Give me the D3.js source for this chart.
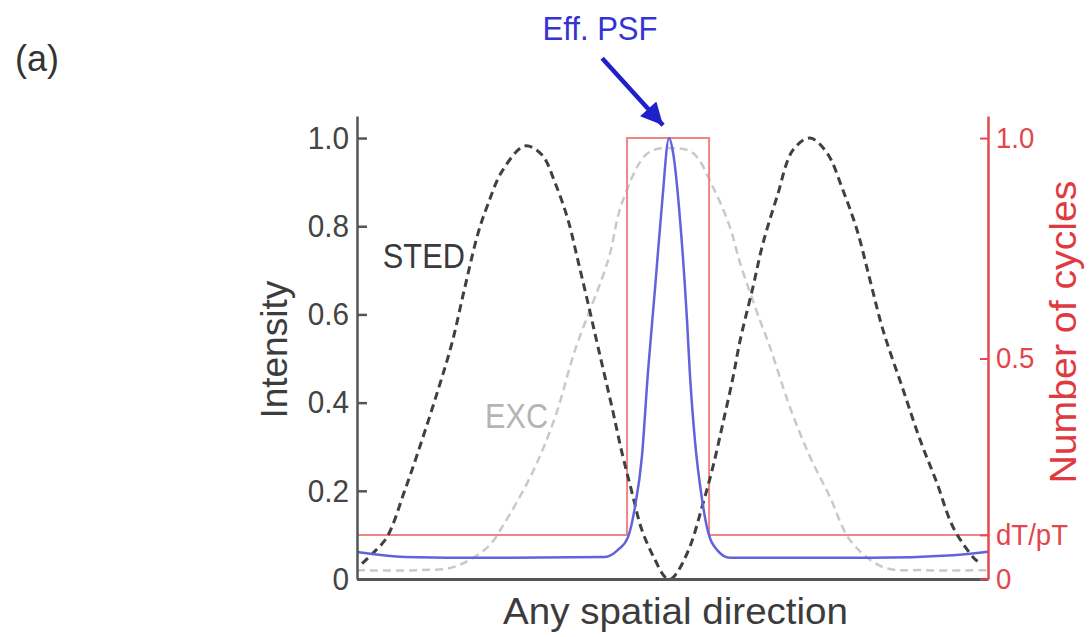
<!DOCTYPE html>
<html>
<head>
<meta charset="utf-8">
<script src="https://cdn.jsdelivr.net/npm/d3@7"></script>
<style>
body { margin: 0; background: #fff; }
svg { display: block; }
text { font-family: "Liberation Sans", Arial, sans-serif; }
</style>
</head>
<body>
<svg width="1090" height="637"></svg>
<script>
var width = 1090, height = 637;

// scan position (arbitrary units, -1 .. 1) and intensity
var stedX = [-0.984, -0.949, -0.905, -0.848, -0.794, -0.743, -0.699, -0.658, -0.616, -0.585, -0.540, -0.468, -0.414, -0.372, -0.331, -0.300, -0.268, -0.236, -0.192, -0.160, -0.128, -0.097, -0.055, -0.024, -0.005, 0.014, 0.055, 0.097, 0.128, 0.160, 0.192, 0.214, 0.255, 0.287, 0.331, 0.382, 0.436, 0.490, 0.540, 0.585, 0.626, 0.667, 0.731, 0.785, 0.838, 0.889, 0.952, 0.975];
var stedY = [0.035, 0.059, 0.095, 0.202, 0.315, 0.429, 0.535, 0.662, 0.785, 0.850, 0.925, 0.982, 0.962, 0.898, 0.814, 0.723, 0.626, 0.526, 0.390, 0.286, 0.195, 0.111, 0.043, 0.005, 0.000, 0.014, 0.073, 0.172, 0.254, 0.354, 0.458, 0.540, 0.662, 0.762, 0.866, 0.973, 1.000, 0.966, 0.882, 0.791, 0.678, 0.565, 0.429, 0.315, 0.218, 0.118, 0.050, 0.035];

var excX = [-1.0, -0.8, -0.689, -0.585, -0.540, -0.445, -0.372, -0.309, -0.204, -0.160, -0.078, 0.0, 0.065, 0.128, 0.182, 0.214, 0.277, 0.309, 0.372, 0.436, 0.499, 0.563, 0.667, 0.8, 1.0];
var excY = [0.020, 0.020, 0.028, 0.073, 0.118, 0.240, 0.367, 0.519, 0.723, 0.853, 0.966, 0.977, 0.966, 0.889, 0.798, 0.717, 0.587, 0.526, 0.390, 0.277, 0.186, 0.088, 0.027, 0.020, 0.020];

var psfX = [-1.0, -0.848, -0.585, -0.214, -0.173, -0.141, -0.119, -0.097, -0.078, -0.055, -0.033, -0.011, 0.002, 0.024, 0.046, 0.055, 0.071, 0.094, 0.109, 0.141, 0.182, 0.626, 0.889, 1.0];
var psfY = [0.061, 0.050, 0.048, 0.050, 0.066, 0.095, 0.163, 0.277, 0.467, 0.662, 0.853, 1.000, 0.966, 0.814, 0.587, 0.467, 0.315, 0.179, 0.118, 0.066, 0.048, 0.048, 0.054, 0.062];

// number of cycles (right axis)
var cycleX = [-1.0, -0.144, -0.144, 0.116, 0.116, 1.0];
var cycleY = [0.1, 0.1, 1.0, 1.0, 0.1, 0.1];

var leftTicks = [0, 0.2, 0.4, 0.6, 0.8, 1.0];
var rightTicks = [0, 0.1, 0.5, 1.0];
var rightTickLabels = ["0", "dT/pT", "0.5", "1.0"];

var svg = d3.select("svg");

var x = d3.scaleLinear().domain([-1, 1]).range([357, 988]);
var y = d3.scaleLinear().domain([0, 1.05]).range([579, 116]);
var y2 = d3.scaleLinear().domain([0, 1.05]).range([579, 116]);

function squeeze(sel, k) {
	sel.each(function() {
		var l = this.getComputedTextLength();
		d3.select(this).attr("textLength", l * k).attr("lengthAdjust", "spacingAndGlyphs");
	});
}

var smooth = d3.line()
	.x(function(d) { return x(d[0]); })
	.y(function(d) { return y(d[1]); })
	.curve(d3.curveCatmullRom.alpha(0.5));

var line = d3.line()
	.x(function(d) { return x(d[0]); })
	.y(function(d) { return y(d[1]); })
	.curve(d3.curveMonotoneX);

// curves
svg.append("path")
	.datum(d3.zip(excX, excY))
	.attr("d", smooth)
	.attr("fill", "none")
	.attr("stroke", "#c9c9c9")
	.attr("stroke-width", 2.5)
	.attr("stroke-dasharray", "8,5");

svg.append("path")
	.datum(d3.zip(cycleX, cycleY))
	.attr("d", d3.line().x(function(d) { return x(d[0]); }).y(function(d) { return y2(d[1]); }))
	.attr("fill", "none")
	.attr("stroke", "#f08585")
	.attr("stroke-width", 2);

svg.append("path")
	.datum(d3.zip(stedX, stedY))
	.attr("d", smooth)
	.attr("fill", "none")
	.attr("stroke", "#404040")
	.attr("stroke-width", 3)
	.attr("stroke-dasharray", "8,5");

svg.append("path")
	.datum(d3.zip(psfX, psfY))
	.attr("d", line)
	.attr("fill", "none")
	.attr("stroke", "#6262dc")
	.attr("stroke-width", 2.5);

// axes
var gx = svg.append("g")
	.attr("transform", "translate(0," + y(0) + ")")
	.call(d3.axisBottom(x).tickValues([]).tickSizeOuter(0));
gx.select(".domain").attr("stroke", "#555").attr("stroke-width", 3);

var gy = svg.append("g")
	.attr("transform", "translate(" + x(-1) + ",0)")
	.call(d3.axisLeft(y).tickValues(leftTicks).tickSizeInner(-10).tickSizeOuter(0).tickPadding(8)
		.tickFormat(function(d) { return d === 0 ? "0" : d3.format(".1f")(d); }));
gy.select(".domain").attr("stroke", "#555").attr("stroke-width", 2.5);
gy.selectAll(".tick line").attr("stroke", "#555").attr("stroke-width", 2.5);
gy.selectAll(".tick text").attr("fill", "#444").attr("font-size", 32).attr("font-family", null);
squeeze(gy.selectAll(".tick text"), 0.93);

var gy2 = svg.append("g")
	.attr("transform", "translate(" + x(1) + ",0)")
	.call(d3.axisRight(y2).tickValues(rightTicks).tickSizeInner(-8).tickSizeOuter(0).tickPadding(8)
		.tickFormat(function(d, i) { return rightTickLabels[i]; }));
gy2.select(".domain").attr("stroke", "#e5484d").attr("stroke-width", 2.5);
gy2.selectAll(".tick line").attr("stroke", "#e5484d").attr("stroke-width", 2);
gy2.selectAll(".tick text").attr("fill", "#e3454b").attr("font-size", 29).attr("font-family", null);
squeeze(gy2.selectAll(".tick text"), 0.95);

// axis titles
svg.append("text")
	.attr("transform", "translate(287," + y(0.52) + ") rotate(-90)")
	.attr("text-anchor", "middle")
	.attr("font-size", 37)
	.attr("fill", "#3c3c3c")
	.text("Intensity");

svg.append("text")
	.attr("transform", "translate(1076," + y2(0.56) + ") rotate(-90)")
	.attr("text-anchor", "middle")
	.attr("font-size", 37)
	.attr("fill", "#e03a40")
	.attr("textLength", 303)
	.attr("lengthAdjust", "spacingAndGlyphs")
	.text("Number of cycles");

svg.append("text")
	.attr("x", 503)
	.attr("y", 624)
	.attr("font-size", 37)
	.attr("fill", "#3c3c3c")
	.attr("textLength", 345)
	.attr("lengthAdjust", "spacingAndGlyphs")
	.text("Any spatial direction");

// curve labels
svg.append("text")
	.attr("x", x(-0.918))
	.attr("y", y(0.705))
	.attr("font-size", 35)
	.attr("fill", "#3a3a3a")
	.attr("textLength", 82)
	.attr("lengthAdjust", "spacingAndGlyphs")
	.text("STED");

svg.append("text")
	.attr("x", x(-0.594))
	.attr("y", y(0.342))
	.attr("font-size", 35)
	.attr("fill", "#b4b4b4")
	.attr("textLength", 63)
	.attr("lengthAdjust", "spacingAndGlyphs")
	.text("EXC");

svg.append("text")
	.attr("x", x(-0.412))
	.attr("y", y(1.222))
	.attr("font-size", 34)
	.attr("fill", "#3434d2")
	.attr("textLength", 115)
	.attr("lengthAdjust", "spacingAndGlyphs")
	.text("Eff. PSF");

// arrow to the peak
svg.append("defs").append("marker")
	.attr("id", "head")
	.attr("markerUnits", "userSpaceOnUse")
	.attr("viewBox", "0 0 10 10")
	.attr("refX", 10)
	.attr("refY", 5)
	.attr("markerWidth", 26)
	.attr("markerHeight", 22)
	.attr("orient", "auto")
	.append("path")
	.attr("d", "M0,0L10,5L0,10Z")
	.attr("fill", "#1f1fcc");

svg.append("line")
	.attr("x1", x(-0.223))
	.attr("y1", y(1.181))
	.attr("x2", x(-0.030))
	.attr("y2", y(1.029))
	.attr("stroke", "#1f1fcc")
	.attr("stroke-width", 4.5)
	.attr("marker-end", "url(#head)");

svg.append("text")
	.attr("x", 15)
	.attr("y", 71)
	.attr("font-size", 36)
	.attr("fill", "#333")
	.text("(a)");
</script>
</body>
</html>
